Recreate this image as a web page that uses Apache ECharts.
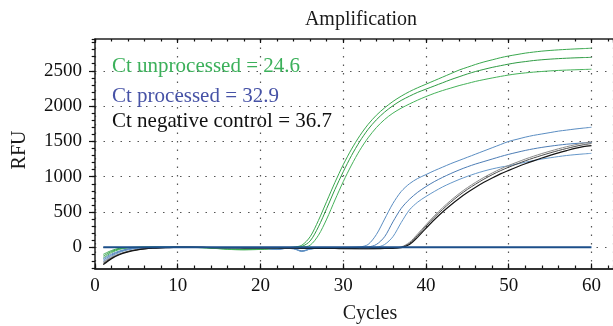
<!DOCTYPE html>
<html>
<head>
<meta charset="utf-8">
<script src="https://cdn.jsdelivr.net/npm/echarts@6/dist/echarts.min.js"></script>
<style>
  html, body { margin: 0; padding: 0; background: #fff; }
  #chart { width: 613px; height: 326px; }
</style>
</head>
<body>
<div id="chart"></div>
<script>
// cycle numbers (x)
const cycles = [1,2,3,4,5,6,7,8,9,10,11,12,13,14,15,16,17,18,19,20,21,22,23,24,25,26,27,28,29,30,
  31,32,33,34,35,36,37,38,39,40,41,42,43,44,45,46,47,48,49,50,51,52,53,54,55,56,57,58,59,60];

// unprocessed (green)
const greenA = [-100,-45,-12,-2,0,2,3,2,4,5,3,0,-3,-8,-14,-20,-24,-26,-25,-22,-18,-12,-6,2,30,150,380,650,920,1170,
  1390,1580,1740,1870,1975,2065,2140,2205,2260,2310,2360,2410,2460,2510,2550,2590,2625,2655,2685,2710,2730,2750,2765,2778,2788,2796,2803,2809,2814,2820];
const greenB = [-125,-60,-20,-5,-1,1,2,3,2,4,2,-1,-5,-10,-18,-25,-30,-32,-30,-27,-22,-15,-8,-2,12,90,290,550,820,1070,
  1300,1500,1670,1805,1915,2005,2080,2140,2195,2240,2285,2330,2375,2415,2455,2490,2520,2548,2572,2595,2615,2630,2645,2656,2665,2672,2678,2683,2687,2690];
const greenC = [-150,-75,-28,-8,-2,0,1,2,3,2,1,-2,-6,-12,-20,-28,-34,-36,-34,-30,-25,-18,-10,-5,0,30,170,400,670,930,
  1165,1375,1550,1695,1810,1900,1970,2030,2085,2135,2180,2220,2255,2290,2320,2350,2375,2398,2420,2440,2457,2470,2481,2490,2498,2505,2510,2514,2518,2522];

// processed (blue)
const blueA = [-160,-95,-50,-22,-8,-2,0,2,3,4,3,2,0,-2,-4,-5,-6,-8,-10,-12,-18,-30,-15,-20,-55,-25,-10,-5,-3,-2,
  0,5,40,180,400,620,790,900,975,1030,1085,1135,1185,1230,1275,1320,1365,1410,1455,1500,1530,1560,1585,1605,1625,1645,1660,1675,1688,1700];
const blueB = [-180,-110,-60,-28,-12,-4,-1,1,2,3,2,1,-1,-3,-5,-6,-8,-10,-12,-14,-18,-28,-14,-18,-50,-22,-10,-6,-4,-3,
  -2,0,5,40,150,360,550,680,780,860,930,990,1045,1095,1140,1180,1215,1250,1285,1317,1345,1372,1395,1415,1432,1447,1460,1470,1478,1485];
const blueC = [-200,-125,-70,-35,-16,-6,-2,0,1,2,2,0,-2,-4,-6,-8,-10,-12,-14,-16,-20,-32,-16,-20,-60,-25,-12,-8,-6,-5,
  -4,-3,-2,2,40,150,350,530,640,720,790,855,910,960,1005,1045,1080,1110,1135,1155,1180,1205,1228,1250,1268,1285,1300,1312,1322,1331];

// negative control (black / grey)
const negA = [-210,-140,-90,-55,-32,-18,-10,-5,-2,0,1,0,-1,-2,-3,-4,-5,-6,-6,-7,-8,-8,-9,-10,-12,-12,-13,-14,-15,-16,
  -17,-18,-18,-17,-15,-10,5,70,190,320,445,560,665,760,845,920,990,1052,1110,1160,1205,1250,1290,1328,1362,1395,1425,1452,1475,1495];
const negB = [-228,-150,-96,-60,-36,-21,-12,-6,-3,-1,0,-1,-2,-3,-4,-5,-6,-7,-7,-8,-9,-9,-10,-11,-13,-13,-14,-15,-16,-17,
  -18,-19,-19,-18,-16,-12,0,55,170,300,425,535,640,735,820,895,965,1028,1085,1135,1180,1225,1265,1302,1337,1370,1400,1428,1452,1470];
const negC = [-245,-160,-102,-64,-39,-23,-13,-7,-3,-1,0,-1,-2,-3,-4,-5,-6,-7,-8,-9,-10,-10,-11,-12,-14,-14,-15,-16,-17,-18,
  -19,-20,-20,-19,-17,-14,-5,40,145,270,390,500,600,692,775,850,920,982,1040,1090,1138,1183,1225,1265,1302,1338,1370,1400,1425,1440];

// no-template baseline
const baseline = [0,0,0,0,0,0,0,0,0,0,0,0,0,0,0,0,0,0,0,0,0,0,0,0,0,0,0,0,0,0,
  0,0,0,0,0,0,0,0,0,0,0,0,0,0,0,0,0,0,0,0,0,0,0,0,0,0,0,0,0,0];

// axis ticks
const xMajorStep = 10;
const xMinorStep = 2;
const yMajorTicks = [0, 500, 1000, 1500, 2000, 2500];
const yMinorStep = 100;

const annotations = [
  { text: 'Ct unprocessed = 24.6', color: '#3bb05a', y: 66 },
  { text: 'Ct processed = 32.9', color: '#4652a6', y: 96 },
  { text: 'Ct negative control = 36.7', color: '#111111', y: 121 },
];

const SERIF = '"Liberation Serif", "DejaVu Serif", serif';
const X_MIN = 0, X_MAX = 62.6;
const Y_MIN = -300, Y_MAX = 2950;

const chart = echarts.init(document.getElementById('chart'), null, { renderer: 'canvas' });

const pairs = (vals) => cycles.map((c, i) => [c, vals[i]]);

const curve = (name, vals, color, width, z) => ({
  name,
  type: 'line',
  xAxisIndex: 0,
  yAxisIndex: 0,
  data: pairs(vals),
  symbol: 'none',
  smooth: 0.3,
  lineStyle: { color, width },
  z: z || 2,
  silent: true,
});

const tickStyle = { color: '#111', width: 1.2 };
const dotted = { type: [1.5, 7], color: '#555', width: 1.2 };

const xAxisBase = {
  type: 'value', min: X_MIN, max: X_MAX,
  axisLine: { show: false, onZero: false },
  axisLabel: { show: false },
  splitLine: { show: false },
};

const option = {
  animation: false,
  backgroundColor: '#fff',
  grid: { left: 95, right: 0, top: 39, bottom: 57.5, containLabel: false },
  xAxis: [
    Object.assign({}, xAxisBase, {
      position: 'bottom', interval: xMajorStep,
      axisLine: { show: true, onZero: false, lineStyle: { color: '#333', width: 2 } },
      axisTick: { show: true, inside: true, length: 5, lineStyle: tickStyle },
      axisLabel: {
        show: true, margin: 8, color: '#111', fontSize: 19, fontFamily: SERIF,
        showMaxLabel: false,
        formatter: (v) => (v % xMajorStep === 0 ? String(v) : ''),
      },
      splitLine: { show: true, lineStyle: dotted },
    }),
    Object.assign({}, xAxisBase, {
      position: 'bottom', interval: xMinorStep,
      axisTick: { show: true, inside: true, length: 3, lineStyle: tickStyle },
    }),
    Object.assign({}, xAxisBase, {
      position: 'top', interval: xMajorStep,
      axisLine: { show: true, onZero: false, lineStyle: { color: '#222', width: 1.5 } },
      axisTick: { show: true, inside: true, length: 4, lineStyle: tickStyle },
    }),
    Object.assign({}, xAxisBase, {
      position: 'top', interval: xMinorStep,
      axisTick: { show: true, inside: true, length: 2.5, lineStyle: tickStyle },
    }),
  ],
  yAxis: [
    {
      type: 'value', min: Y_MIN, max: Y_MAX, position: 'left',
      axisLine: { show: true, onZero: false, lineStyle: { color: '#222', width: 1.5 } },
      axisTick: { show: true, inside: false, length: 6, customValues: yMajorTicks, lineStyle: tickStyle },
      axisLabel: {
        show: true, margin: 13, color: '#111', fontSize: 19, fontFamily: SERIF,
        customValues: yMajorTicks,
        formatter: (v) => String(v),
      },
      splitLine: { show: true, lineStyle: dotted },
    },
    {
      type: 'value', min: Y_MIN, max: Y_MAX, position: 'left', interval: yMinorStep,
      axisLine: { show: false, onZero: false },
      axisTick: { show: true, inside: false, length: 3.3, lineStyle: tickStyle },
      axisLabel: { show: false },
      splitLine: { show: false },
    },
  ],
  series: [
    curve('unprocessed 1', greenA, '#3aa84e', 1),
    curve('unprocessed 2', greenB, '#2f9c44', 1),
    curve('unprocessed 3', greenC, '#45b259', 1),
    curve('processed 1', blueA, '#5a8dc2', 1),
    curve('processed 2', blueB, '#4d7db5', 1),
    curve('processed 3', blueC, '#6597c9', 1),
    curve('negative 1', negA, '#8a8a8a', 1),
    curve('negative 2', negB, '#4a4a4a', 1),
    curve('negative 3', negC, '#151515', 1.2),
    curve('no template', baseline, '#1c4f8a', 2, 5),
  ],
  graphic: [
    {
      type: 'text', x: 361, y: 20,
      style: { text: 'Amplification', align: 'center', verticalAlign: 'middle', fontSize: 20, fontFamily: SERIF, fill: '#1a1a1a' },
    },
    {
      type: 'text', x: 370, y: 314,
      style: { text: 'Cycles', align: 'center', verticalAlign: 'middle', fontSize: 20, fontFamily: SERIF, fill: '#1a1a1a' },
    },
    {
      type: 'text', x: 20, y: 150, rotation: Math.PI / 2,
      style: { text: 'RFU', align: 'center', verticalAlign: 'middle', fontSize: 20, fontFamily: SERIF, fill: '#1a1a1a' },
    },
  ].concat(annotations.map((a) => ({
    type: 'text', x: 112, y: a.y, z: 10,
    style: { text: a.text, align: 'left', verticalAlign: 'middle', fontSize: 21, fontFamily: SERIF, fill: a.color },
  }))),
};

chart.setOption(option);
window.addEventListener('resize', () => chart.resize());
</script>
</body>
</html>
